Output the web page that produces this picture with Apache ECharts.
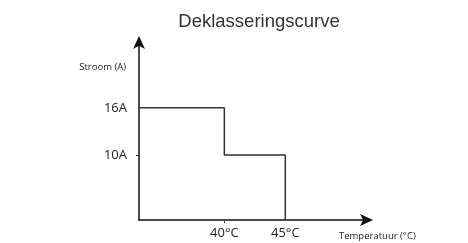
<!DOCTYPE html>
<html><head><meta charset="utf-8">
<script src="https://cdn.jsdelivr.net/npm/echarts@6/dist/echarts.min.js"></script>
<style>html,body{margin:0;padding:0;background:#fff}#c{width:468px;height:243px}</style>
</head><body><div id="c"></div>
<script>
var title = 'Deklasseringscurve';
var xName = 'Temperatuur (°C)';
var yName = 'Stroom (A)';
var temps = [33, 40, 40, 45, 45];
var currents = [16, 16, 10, 10, 1.7];
var xTicks = [40, 45];
var yTicks = [10, 16];

var chart = echarts.init(document.getElementById('c'));
var font = 'Open Sans';
chart.setOption({
  animation: false,
  title: {text: title, left: 254, top: 7, textAlign: 'center',
    textStyle: {fontFamily: 'Liberation Sans', fontSize: 18.5, fontWeight: 'normal', color: '#333'}},
  grid: {left: 139, right: 101, top: 42, bottom: 23},
  xAxis: {type: 'value', min: 33, max: 51.7,
    axisLine: {onZero: false, lineStyle: {color: '#111', width: 1.5}, symbol: ['none', 'arrow'], symbolSize: [9, 13], symbolOffset: [0, 6]},
    axisTick: {show: true, customValues: [40], length: 3, inside: false, lineStyle: {color: '#333'}},
    splitLine: {show: false},
    axisLabel: {customValues: xTicks, formatter: function(v){return v + '°C';}, color: '#222', fontFamily: font, fontSize: 13, margin: 7}
  },
  yAxis: {type: 'value', min: 1.7, max: 24.4,
    axisLine: {onZero: false, lineStyle: {color: '#111', width: 1.5}, symbol: ['none', 'arrow'], symbolSize: [9, 13], symbolOffset: [0, 6]},
    axisTick: {show: true, customValues: [10], length: 3, lineStyle: {color: '#333'}},
    splitLine: {show: false},
    axisLabel: {customValues: yTicks, formatter: function(v){return v + 'A';}, color: '#222', fontFamily: font, fontSize: 13, margin: 12}
  },
  graphic: [
    {type: 'text', right: 468 - 126, top: 62, style: {text: yName, fontFamily: font, fontSize: 9.5, fill: '#222', textAlign: 'right'}},
    {type: 'text', left: 339, top: 231, style: {text: xName, fontFamily: font, fontSize: 9.5, fill: '#222'}}
  ],
  series: [{type: 'line', data: temps.map(function(t, i){return [t, currents[i]];}),
    symbol: 'none', lineStyle: {color: '#333', width: 1.5}}]
});
</script></body></html>
